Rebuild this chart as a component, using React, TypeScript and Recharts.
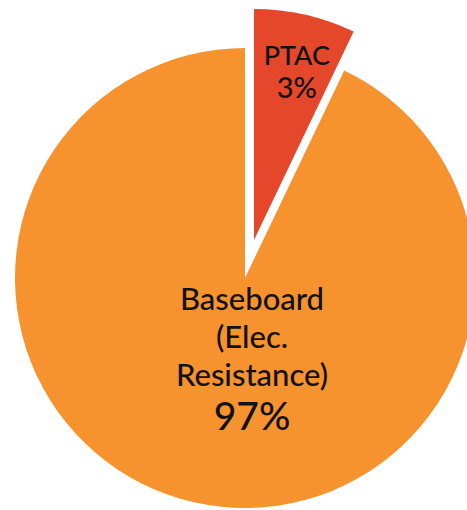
import { PieChart, Pie, Cell } from "recharts";

// heating system share, the wedge is drawn wider than its label in the source
const names = ["PTAC", "Baseboard"];
const drawnShare = [7.1, 92.9];
const percentLabels = ["3%", "97%"];
const labelLines = [["PTAC"], ["Baseboard", "(Elec.", "Resistance)"]];

const colors = ["#E4472A", "#F6932E"];

const data = names.map((name, i) => ({ name, value: drawnShare[i] }));

const FONT = "Lato, 'Open Sans', sans-serif";

function renderLabel(which: number) {
  return (props: any) => {
    const { cx, cy, midAngle, outerRadius, index } = props;
    if (index !== which) return null;
    if (index === 0) {
      const rad = (-midAngle * Math.PI) / 180;
      const x = cx + outerRadius * 0.74 * Math.cos(rad) + 5;
      const y = cy + outerRadius * 0.74 * Math.sin(rad);
      return (
        <text x={x} textAnchor="middle" fill="#111" fontFamily={FONT} fontWeight={500}>
          <tspan x={x} y={y - 8} fontSize={27}>
            {labelLines[0][0]}
          </tspan>
          <tspan x={x} y={y + 25} fontSize={29}>
            {percentLabels[0]}
          </tspan>
        </text>
      );
    }
    const x = cx + 7;
    const y0 = cy + 32;
    return (
      <text x={x} textAnchor="middle" fill="#111" fontFamily={FONT} fontWeight={500}>
        {labelLines[1].map((t, i) => (
          <tspan key={t} x={x} y={y0 + i * 38} fontSize={31}>
            {t}
          </tspan>
        ))}
        <tspan x={x} y={y0 + 120} fontSize={39}>
          {percentLabels[1]}
        </tspan>
      </text>
    );
  };
}

export default function App() {
  return (
    <div style={{ position: "absolute", left: 0, top: 0, background: "#fff" }}>
      <PieChart width={467} height={510} margin={{ top: 0, right: 0, bottom: 0, left: 0 }}>
        <Pie
          data={data}
          dataKey="value"
          cx={245}
          cy={278}
          outerRadius={230}
          startAngle={90}
          endAngle={-270}
          stroke="none"
          label={renderLabel(1)}
          labelLine={false}
          isAnimationActive={false}
        >
          {data.map((d, i) => (
            <Cell key={d.name} fill={i === 1 ? colors[1] : "transparent"} />
          ))}
        </Pie>
        <Pie
          data={data}
          dataKey="value"
          cx={254}
          cy={240}
          outerRadius={231}
          startAngle={90}
          endAngle={-270}
          stroke="none"
          label={renderLabel(0)}
          labelLine={false}
          isAnimationActive={false}
        >
          {data.map((d, i) => (
            <Cell key={d.name} fill={i === 0 ? colors[0] : "transparent"} />
          ))}
        </Pie>
      </PieChart>
    </div>
  );
}
